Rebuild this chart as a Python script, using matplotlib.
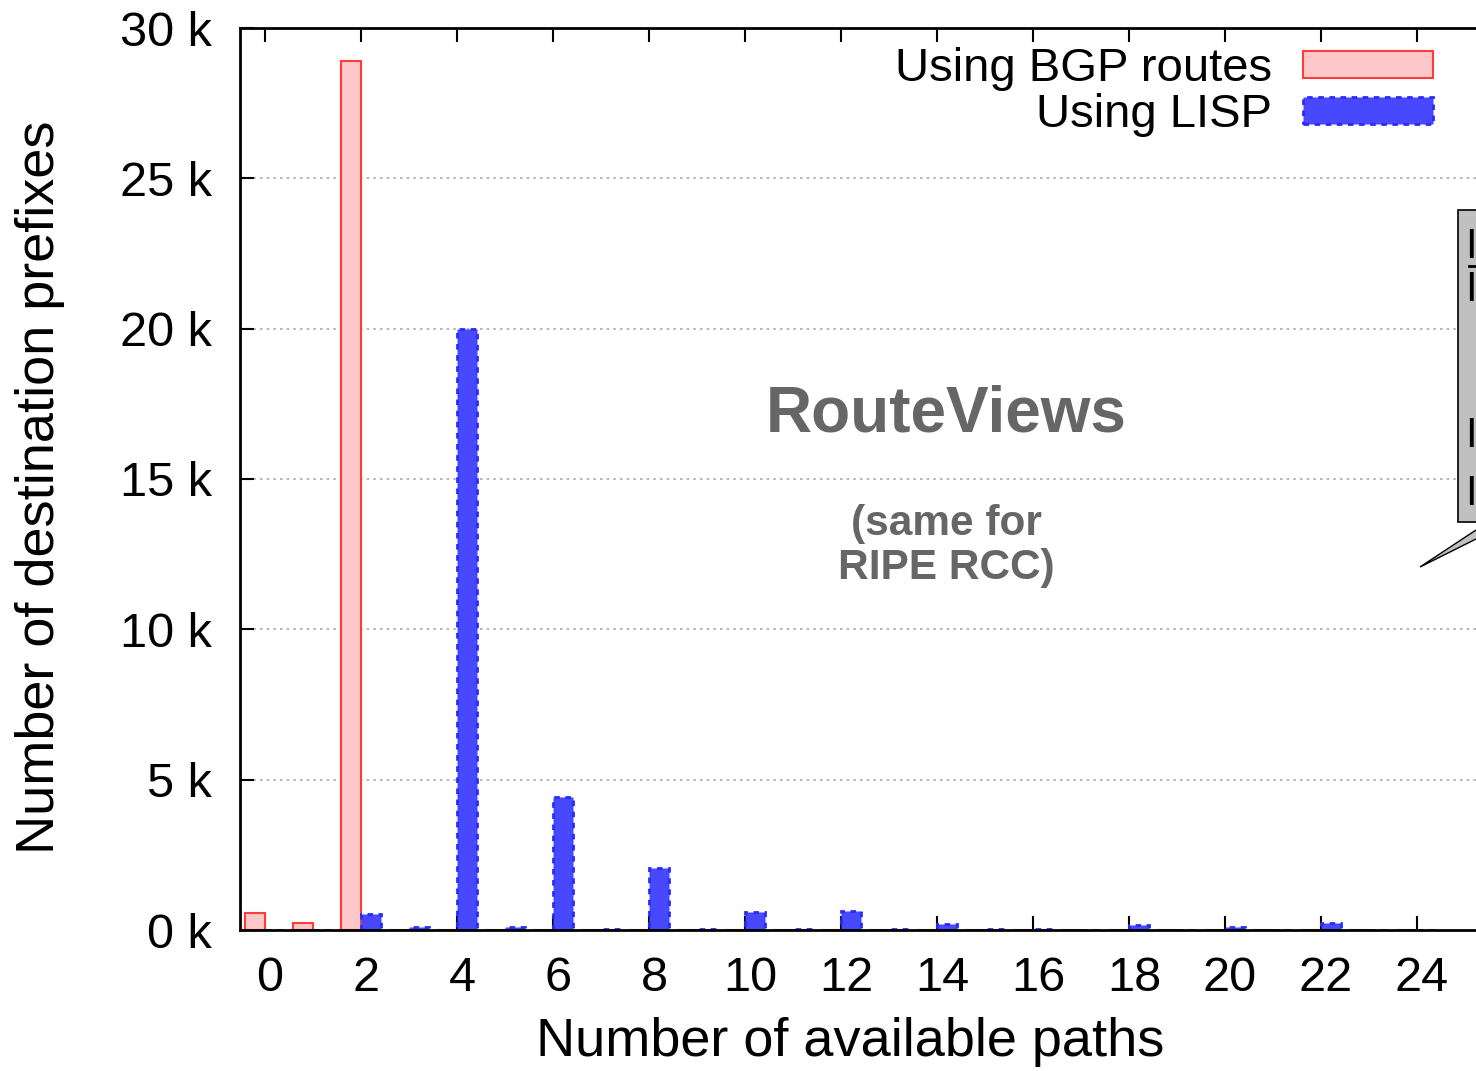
import numpy as np
import matplotlib
matplotlib.use('Agg')
import matplotlib.pyplot as plt
import matplotlib.transforms as mtransforms
from matplotlib.patches import Rectangle, Polygon

plt.rcParams['font.family'] = ['Liberation Sans', 'DejaVu Sans']

# data
paths = np.arange(0, 25)
bgp_routes = [560, 220, 28900, 0, 0, 0, 0, 0, 0, 0, 0, 0, 0,
              0, 0, 0, 0, 0, 0, 0, 0, 0, 0, 0, 0]
lisp = [0, 0, 530, 100, 20000, 100, 4430, 30, 2070, 20, 600, 20, 620,
        30, 200, 20, 40, 10, 170, 10, 90, 10, 220, 10, 10]
yticks = [0, 5000, 10000, 15000, 20000, 25000, 30000]
ytick_labels = ['0 k', '5 k', '10 k', '15 k', '20 k', '25 k', '30 k']
xticks = np.arange(0, 25, 2)

W, H = 1476, 1071
fig = plt.figure(figsize=(W / 100, H / 100), dpi=100)

# axes runs past the right edge of the picture, like the cropped original
x_lo, x_hi = -0.52, 26.5
px_per_unit = 48.0
ax_w = (x_hi - x_lo) * px_per_unit
ax_h = 930 - 28
ax = fig.add_axes([240 / W, (H - 930) / H, ax_w / W, ax_h / H])

bw = 0.42
ax.bar(paths - bw / 2, bgp_routes, width=bw, color='#ffc8c8',
       edgecolor='#ff3c3c', linewidth=1.5, label='Using BGP routes', zorder=2)
ax.bar(paths + bw / 2, lisp, width=bw, color='#4848ff',
       edgecolor='#2a2aff', linewidth=2, linestyle=(0, (2, 2)),
       label='Using LISP', zorder=2)

ax.set_xlim(x_lo, x_hi)
ax.set_ylim(0, 30000)
ax.set_xticks(xticks)
ax.set_yticks(yticks)
ax.set_yticklabels(ytick_labels)
ax.tick_params(axis='both', direction='in', length=10, width=1.5,
               labelsize=35, color='black')
ax.tick_params(axis='x', top=True, pad=19)
ax.tick_params(axis='y', right=False, pad=20)
# gnuplot puts the x labels a little right of the tick
shift = mtransforms.ScaledTranslation(5 / 100, 0, fig.dpi_scale_trans)
for lab in ax.get_xticklabels():
    lab.set_transform(lab.get_transform() + shift)
ax.set_axisbelow(True)
for gy in yticks[1:-1]:
    ax.axhline(gy, color='#a8a8a8', linewidth=1.2, linestyle=(0, (1.5, 2.5)),
               zorder=0.5)
for s in ax.spines.values():
    s.set_linewidth(2)

ax.set_xlabel('Number of available paths', fontsize=39)
ax.set_ylabel('Number of destination prefixes', fontsize=39)
ax.xaxis.set_label_coords((850 - 240) / ax_w, -(1042 - 930) / ax_h)
ax.yaxis.set_label_coords(-(240 - 40) / ax_w, (930 - 487) / ax_h)
ax.xaxis.label.set_va('center')
ax.yaxis.label.set_va('center')

leg = ax.legend(loc='upper right', bbox_to_anchor=(1433 / W, (H - 47) / H),
                bbox_transform=fig.transFigure, fontsize=34, frameon=False,
                markerfirst=False, handlelength=2.75, handleheight=0.5,
                labelspacing=0.05, handletextpad=0.65, borderpad=0,
                borderaxespad=0)
for t in leg.get_texts():
    t.set_ha('right')

# annotation text
fig.text(946 / W, (H - 415) / H, 'RouteViews', fontsize=46, fontweight='bold',
         color='#666666', ha='center', va='center')
fig.text(946 / W, (H - 546) / H, '(same for\nRIPE RCC)', fontsize=30.5,
         fontweight='bold', color='#666666', ha='center', va='center',
         linespacing=1.12)

# cropped callout box on the right
box = Rectangle((1458 / W, (H - 522) / H), 100 / W, 312 / H,
                transform=fig.transFigure, facecolor='#c0c0c0',
                edgecolor='black', linewidth=1.2, zorder=5)
fig.add_artist(box)
tri = Polygon([(1476 / W, (H - 530) / H), (1420 / W, (H - 567) / H),
               (1476 / W, (H - 539) / H)], closed=False,
              transform=fig.transFigure, facecolor='#c0c0c0',
              edgecolor='black', linewidth=1.0, zorder=5)
fig.add_artist(tri)
# only the first stroke of each callout line is inside the picture
for ty in [247, 290, 436, 494]:
    fig.text(1477 / W, (H - ty) / H, 'I', fontsize=30, color='black',
             ha='right', va='center', zorder=6)
fig.add_artist(plt.Line2D([1469 / W, 1.0], [(H - 266) / H] * 2,
                          transform=fig.transFigure, color='black',
                          linewidth=2, zorder=6))

fig.savefig('out.png', dpi=100)
